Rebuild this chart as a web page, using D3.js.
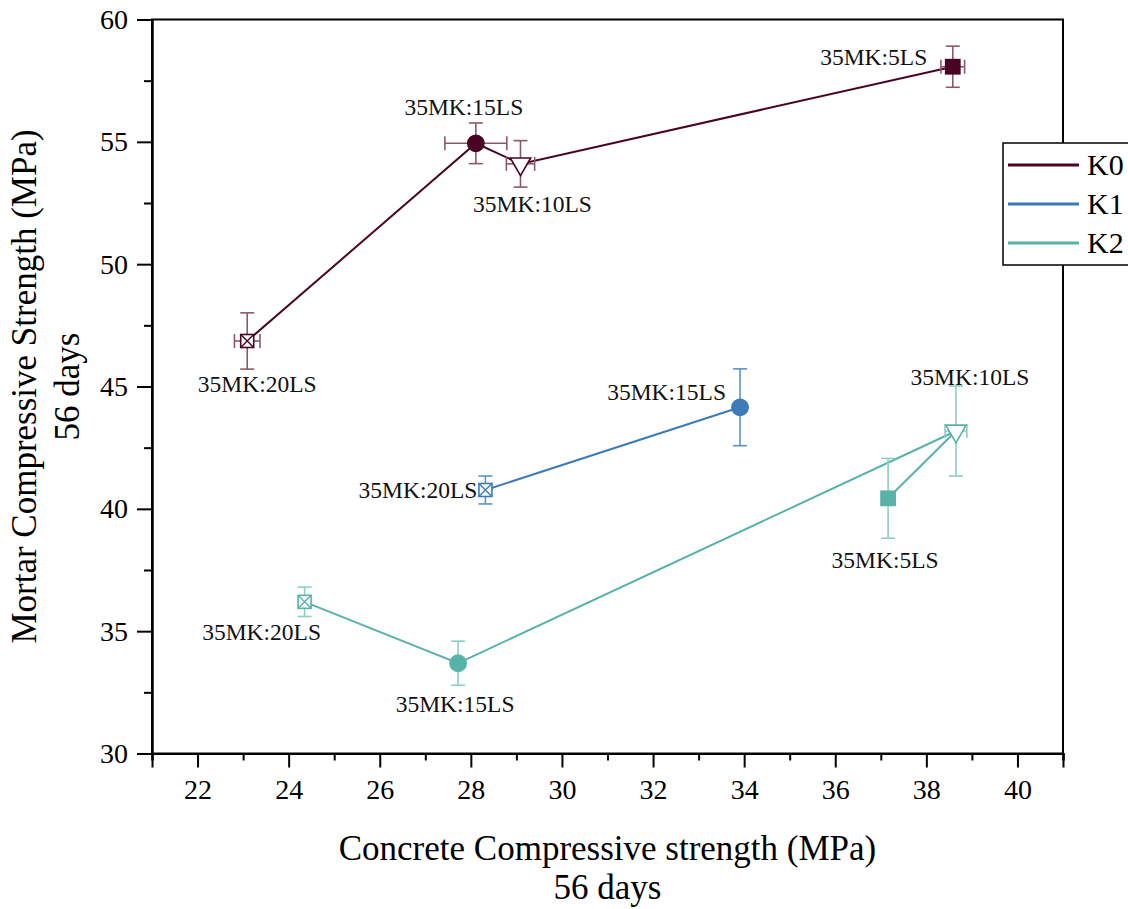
<!DOCTYPE html>
<html>
<head>
<meta charset="utf-8">
<script src="https://cdn.jsdelivr.net/npm/d3@7"></script>
<style>
  html, body { margin: 0; padding: 0; background: #fff; }
  svg { display: block; }
  svg text { font-family: "Liberation Serif", "Times New Roman", serif !important; }
</style>
</head>
<body>
<svg id="chart" width="1128" height="909"></svg>
<script>
// Mix designs (metakaolin : limestone) and the three series
const mixes = ["35MK:20LS", "35MK:15LS", "35MK:10LS", "35MK:5LS"];
const seriesNames = ["K0", "K1", "K2"];
const seriesColors = ["#4a0423", "#3a7bb8", "#57b3a9"];
const errorColors = ["#8a5a6c", "#5a93c8", "#8ccfc6"];

// Concrete (x) and mortar (y) compressive strength at 56 days, MPa
const k0Concrete = [23.09, 28.11, 29.09, 38.58];
const k0Mortar = [46.86, 54.94, 54.10, 58.07];
const k0ConcreteErr = [0.28, 0.68, 0.31, 0.26];
const k0MortarErr = [1.15, 0.83, 0.95, 0.84];

const k1Concrete = [28.32, 33.91];
const k1Mortar = [40.77, 44.15];
const k1ConcreteErr = [0, 0];
const k1MortarErr = [0.57, 1.57];

const k2Concrete = [24.35, 27.72, 38.65, 37.16];
const k2Mortar = [36.20, 33.69, 43.18, 40.43];
const k2ConcreteErr = [0, 0, 0.24, 0];
const k2MortarErr = [0.60, 0.90, 1.84, 1.63];

// Axis ticks
const xMajorTicks = [22, 24, 26, 28, 30, 32, 34, 36, 38, 40];
const xMinorTicks = [21, 23, 25, 27, 29, 31, 33, 35, 37, 39, 41];
const yMajorTicks = [30, 35, 40, 45, 50, 55, 60];
const yMinorTicks = [32.5, 37.5, 42.5, 47.5, 52.5, 57.5];

// Label placement around each point: [dx, dy, anchor]
const labelPlacement = [
  [[10, 51, "middle"], [-12, -28, "middle"], [12, 48, "middle"], [-79, -2, "middle"]],
  [[-8, 8, "end"], [-14, -7, "end"]],
  [[-43, 38, "middle"], [-3, 49, "middle"], [14, -46, "middle"], [-3, 70, "middle"]]
];

const series = [
  { x: k0Concrete, y: k0Mortar, ex: k0ConcreteErr, ey: k0MortarErr },
  { x: k1Concrete, y: k1Mortar, ex: k1ConcreteErr, ey: k1MortarErr },
  { x: k2Concrete, y: k2Mortar, ex: k2ConcreteErr, ey: k2MortarErr }
].map((s, i) => ({
  name: seriesNames[i],
  color: seriesColors[i],
  errColor: errorColors[i],
  points: s.x.map((v, j) => ({
    mix: mixes[j], shape: j, cx: v, cy: s.y[j], ex: s.ex[j], ey: s.ey[j],
    label: labelPlacement[i][j]
  }))
}));

const svg = d3.select("#chart");
const margin = { left: 152, right: 1063, top: 19.5, bottom: 753.5 };

const x = d3.scaleLinear().domain([21, 41]).range([margin.left, margin.right]);
const y = d3.scaleLinear().domain([30, 60]).range([margin.bottom, margin.top]);
const midX = (margin.left + margin.right) / 2;
const midY = (margin.top + margin.bottom) / 2;

// Frame
svg.append("rect")
  .attr("x", margin.left).attr("y", margin.top)
  .attr("width", margin.right - margin.left)
  .attr("height", margin.bottom - margin.top)
  .attr("fill", "none").attr("stroke", "#000").attr("stroke-width", 2);

// Axes
const axisFont = 28;
const gx = svg.append("g").attr("transform", `translate(0,${margin.bottom})`);
gx.call(d3.axisBottom(x).tickValues(xMajorTicks).tickSize(14).tickPadding(12).tickFormat(d3.format("d")));
const gxm = svg.append("g").attr("transform", `translate(0,${margin.bottom})`);
gxm.call(d3.axisBottom(x).tickValues(xMinorTicks).tickSize(7).tickFormat(""));

const gy = svg.append("g").attr("transform", `translate(${margin.left},0)`);
gy.call(d3.axisLeft(y).tickValues(yMajorTicks).tickSize(15).tickPadding(9).tickFormat(d3.format("d")));
const gym = svg.append("g").attr("transform", `translate(${margin.left},0)`);
gym.call(d3.axisLeft(y).tickValues(yMinorTicks).tickSize(8).tickFormat(""));

svg.selectAll("g").attr("font-family", "Liberation Serif");
svg.selectAll(".domain").attr("stroke", "#000").attr("stroke-width", 2);
svg.selectAll(".tick line").attr("stroke", "#000").attr("stroke-width", 2);
svg.selectAll(".tick text")
  .attr("font-family", "Liberation Serif")
  .style("font-size", axisFont + "px")
  .attr("fill", "#000");

// Axis titles
const titleFont = 35;
svg.append("text")
  .attr("x", midX).attr("y", 860)
  .attr("text-anchor", "middle").style("font-size", titleFont + "px")
  .text("Concrete Compressive strength (MPa)");
svg.append("text")
  .attr("x", midX).attr("y", 899)
  .attr("text-anchor", "middle").style("font-size", titleFont + "px")
  .text("56 days");
svg.append("text")
  .attr("transform", `translate(36,${midY}) rotate(-90)`)
  .attr("text-anchor", "middle").style("font-size", titleFont + "px")
  .text("Mortar Compressive Strength (MPa)");
svg.append("text")
  .attr("transform", `translate(79,${midY}) rotate(-90)`)
  .attr("text-anchor", "middle").style("font-size", titleFont + "px")
  .text("56 days");

// Connecting lines
const line = d3.line().x(d => x(d.cx)).y(d => y(d.cy));
const plot = svg.append("g");
series.forEach(s => {
  plot.append("path")
    .datum(s.points)
    .attr("d", line)
    .attr("fill", "none")
    .attr("stroke", s.color)
    .attr("stroke-width", 2);
});

// Error bars
const cap = 7;
series.forEach(s => {
  const g = plot.append("g").attr("stroke", s.errColor).attr("stroke-width", 1.6).attr("fill", "none");
  s.points.forEach(p => {
    const px = x(p.cx), py = y(p.cy);
    if (p.ey > 0) {
      const t = y(p.cy + p.ey), b = y(p.cy - p.ey);
      g.append("line").attr("x1", px).attr("x2", px).attr("y1", t).attr("y2", b);
      g.append("line").attr("x1", px - cap).attr("x2", px + cap).attr("y1", t).attr("y2", t);
      g.append("line").attr("x1", px - cap).attr("x2", px + cap).attr("y1", b).attr("y2", b);
    }
    if (p.ex > 0) {
      const l = x(p.cx - p.ex), r = x(p.cx + p.ex);
      g.append("line").attr("x1", l).attr("x2", r).attr("y1", py).attr("y2", py);
      g.append("line").attr("x1", l).attr("x2", l).attr("y1", py - cap).attr("y2", py + cap);
      g.append("line").attr("x1", r).attr("x2", r).attr("y1", py - cap).attr("y2", py + cap);
    }
  });
});

// Markers: crossed open square, filled circle, open down-triangle, filled square
series.forEach(s => {
  s.points.forEach(p => {
    const g = plot.append("g").attr("transform", `translate(${x(p.cx)},${y(p.cy)})`);
    if (p.shape === 0) {
      const h = 6.5;
      g.append("rect").attr("x", -h).attr("y", -h).attr("width", 2 * h).attr("height", 2 * h)
        .attr("fill", "#fff").attr("stroke", s.color).attr("stroke-width", 1.6);
      g.append("path").attr("d", `M${-h},${-h}L${h},${h}M${-h},${h}L${h},${-h}`)
        .attr("stroke", s.color).attr("stroke-width", 1.4);
    } else if (p.shape === 1) {
      g.append("path").attr("d", d3.symbol(d3.symbolCircle, 250)())
        .attr("fill", s.color);
    } else if (p.shape === 2) {
      g.append("path").attr("d", d3.symbol(d3.symbolTriangle, 180)())
        .attr("transform", "rotate(180)")
        .attr("fill", "#fff").attr("stroke", s.color).attr("stroke-width", 1.6);
    } else {
      g.append("path").attr("d", d3.symbol(d3.symbolSquare, 250)())
        .attr("fill", s.color);
    }
  });
});

// Point labels
series.forEach(s => {
  s.points.forEach(p => {
    const [dx, dy, anchor] = p.label;
    plot.append("text")
      .attr("x", x(p.cx) + dx).attr("y", y(p.cy) + dy)
      .attr("text-anchor", anchor)
      .style("font-size", "23.5px")
      .attr("fill", "#111")
      .text(p.mix);
  });
});

// Legend
const legend = svg.append("g").attr("transform", "translate(1003,143)");
legend.append("rect")
  .attr("x", 0).attr("y", 0).attr("width", 140).attr("height", 122)
  .attr("fill", "#fff").attr("stroke", "#000").attr("stroke-width", 1.5);
seriesNames.forEach((name, i) => {
  const ly = 22 + i * 39;
  legend.append("line")
    .attr("x1", 5).attr("x2", 76).attr("y1", ly).attr("y2", ly)
    .attr("stroke", seriesColors[i]).attr("stroke-width", 3);
  legend.append("text")
    .attr("x", 84).attr("y", ly + 10)
    .style("font-size", "30px")
    .text(name);
});
</script>
</body>
</html>
